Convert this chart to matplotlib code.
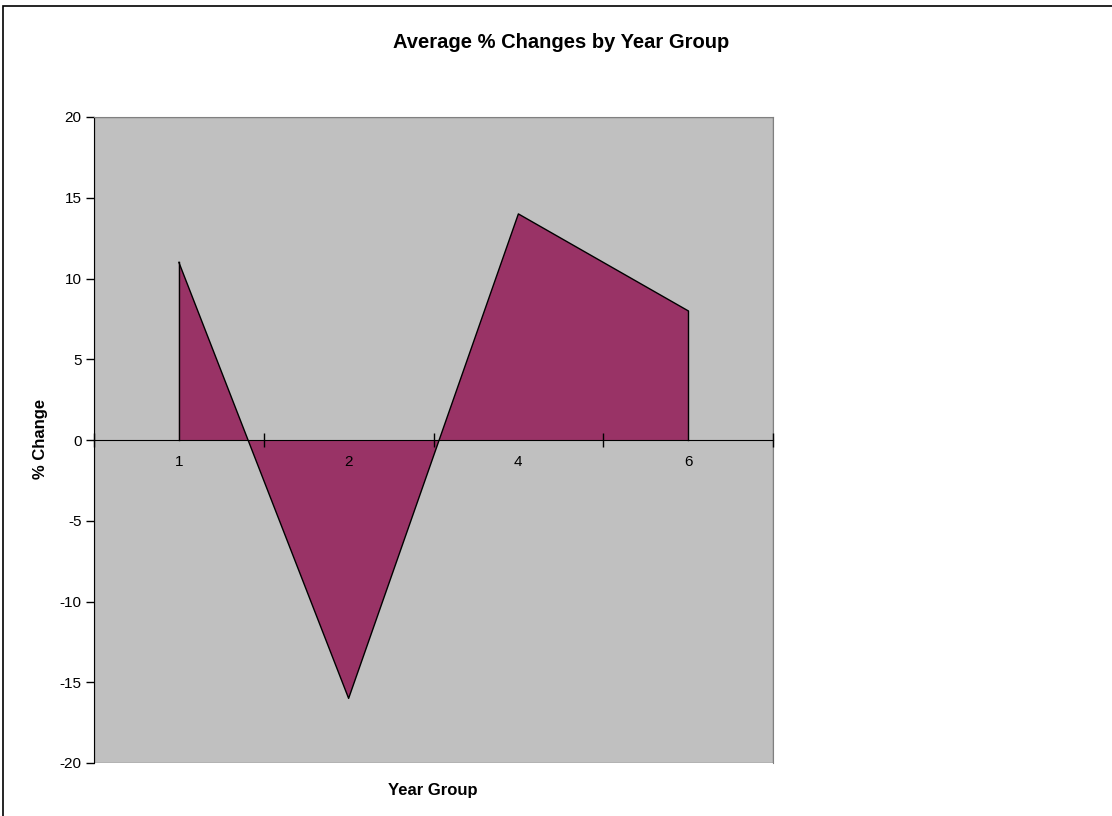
import matplotlib
matplotlib.use("Agg")
import matplotlib.pyplot as plt
from matplotlib.patches import Rectangle

categories = ["1", "2", "4", "6"]
values = [11, -16, 14, 8]
yticks = [-20, -15, -10, -5, 0, 5, 10, 15, 20]

plt.rcParams['font.family'] = ['Liberation Sans', 'DejaVu Sans']

W, H = 1112, 816
fig = plt.figure(figsize=(W / 100, H / 100), dpi=100)
fig.patch.set_facecolor('white')

# outer chart border (extends beyond right/bottom edges)
fig.add_artist(Rectangle((3 / W, -0.1), 1.2, 1 - 6 / H + 0.1, transform=fig.transFigure,
                         fill=False, edgecolor='black', linewidth=1.2))

left, right, top, bottom = 94, 773, 117, 763
ax = fig.add_axes([left / W, 1 - bottom / H, (right - left) / W, (bottom - top) / H])
ax.set_facecolor('#C0C0C0')

xs = [i + 0.5 for i in range(len(categories))]
ax.fill_between(xs, values, 0, facecolor='#993366', edgecolor='none', zorder=1)
ax.plot(xs, values, color='black', linewidth=1, zorder=1.2)
for x, v in ((xs[0], values[0]), (xs[-1], values[-1])):
    ax.plot([x, x], [0, v], color='black', linewidth=1, zorder=1.2)

ax.set_xlim(0, len(categories))
ax.set_ylim(-20, 20)
ax.set_yticks(yticks)
ax.set_yticklabels([str(t) for t in yticks])

ax.set_xticks(range(len(categories) + 1))
ax.set_xticklabels([])
ax.set_xticks(xs, minor=True)
ax.set_xticklabels(categories, minor=True)
ax.tick_params(axis='x', which='major', direction='inout', length=10, width=1, color='black')
ax.tick_params(axis='x', which='minor', length=0, pad=11, labelsize=11)
ax.tick_params(axis='y', direction='out', length=6, width=1, color='black', pad=3, labelsize=11)
ax.xaxis.set_zorder(5)

ax.spines['bottom'].set_position(('data', 0))
ax.spines['bottom'].set_color('black')
ax.spines['bottom'].set_zorder(4)
ax.spines['left'].set_color('black')
for s in ('top', 'right'):
    ax.spines[s].set_color('#808080')

# plot-area bottom gray border
ax.add_artist(Rectangle((0, 0), 1, 1, transform=ax.transAxes, fill=False,
                        edgecolor='#808080', linewidth=1, zorder=0.5))

fig.text(561 / W, 1 - 43 / H, "Average % Changes by Year Group", ha='center', va='center',
         fontsize=14.5, fontweight='bold')
fig.text(433 / W, 1 - 790 / H, "Year Group", ha='center', va='center',
         fontsize=12, fontweight='bold')
fig.text(41 / W, 1 - 439 / H, "% Change", ha='center', va='center', rotation=90,
         fontsize=12, fontweight='bold')

fig.savefig("out.png", dpi=100)
